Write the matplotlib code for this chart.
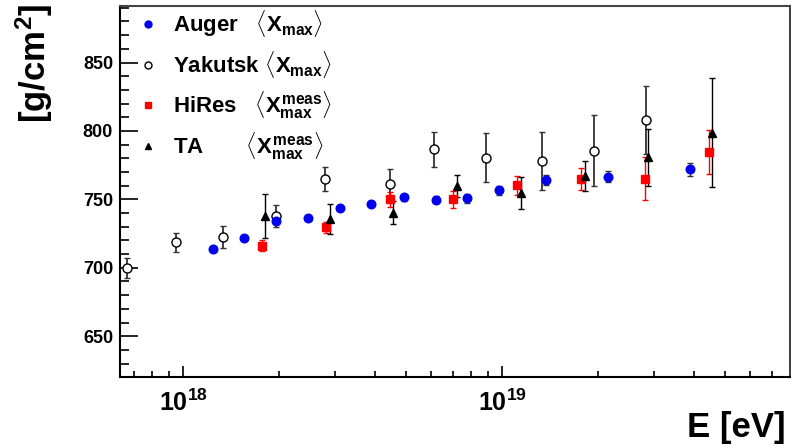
import matplotlib
matplotlib.use("Agg")
import matplotlib.pyplot as plt
from matplotlib.lines import Line2D
import numpy as np

plt.rcParams['font.family'] = ['Liberation Sans', 'DejaVu Sans']
plt.rcParams['font.weight'] = 'bold'
plt.rcParams['mathtext.fontset'] = 'custom'
plt.rcParams['mathtext.rm'] = 'Liberation Sans:bold'
plt.rcParams['mathtext.it'] = 'Liberation Sans:bold'
plt.rcParams['mathtext.bf'] = 'Liberation Sans:bold'
plt.rcParams['mathtext.sf'] = 'Liberation Sans:bold'
plt.rcParams['ytick.direction'] = 'in'
plt.rcParams['xtick.direction'] = 'in'
plt.rcParams['ytick.major.size'] = 13
plt.rcParams['ytick.minor.size'] = 6.5
plt.rcParams['xtick.major.size'] = 8
plt.rcParams['xtick.minor.size'] = 4.3
plt.rcParams['ytick.major.width'] = 1.2
plt.rcParams['ytick.minor.width'] = 1.2
plt.rcParams['xtick.major.width'] = 1.2
plt.rcParams['xtick.minor.width'] = 1.2
plt.rcParams['ytick.minor.visible'] = True
plt.rcParams['xtick.minor.visible'] = True

# ---- data ----
auger_E = [1.24e18, 1.55e18, 1.95e18, 2.47e18, 3.10e18, 3.89e18, 4.93e18, 6.21e18,
           7.78e18, 9.75e18, 1.37e19, 2.15e19, 3.88e19]
auger_X = [713.4, 721.7, 733.9, 736.5, 743.6, 746.8, 751.5, 749.7, 750.7, 756.6,
           764.1, 766.5, 771.9]
auger_err = [1.5, 1.5, 2.0, 1.5, 1.5, 2.0, 2.5, 2.5, 3.0, 3.5, 3.5, 4.0, 4.5]

yak_E = [6.67e17, 9.47e17, 1.33e18, 1.95e18, 2.78e18, 4.44e18, 6.11e18, 8.89e18,
         1.33e19, 1.94e19, 2.83e19]
yak_X = [699.8, 718.6, 722.7, 738.0, 765.0, 761.2, 786.5, 780.4, 778.2, 785.5, 808.0]
yak_err = [7, 7, 8, 8, 9, 11, 13, 18, 21, 26, 25]

hires_E = [1.77e18, 2.81e18, 4.44e18, 7.02e18, 1.11e19, 1.77e19, 2.80e19, 4.45e19]
hires_X = [716.1, 729.5, 750.2, 750.0, 760.2, 764.6, 765.1, 784.8]
hires_err = [4, 4, 5.5, 6, 7, 8, 15.5, 16]

ta_E = [1.81e18, 2.88e18, 4.56e18, 7.21e18, 1.15e19, 1.82e19, 2.87e19, 4.55e19]
ta_X = [738.0, 735.8, 740.2, 759.7, 754.8, 767.0, 780.7, 798.7]
ta_err = [16, 11, 8.5, 8, 11.5, 11, 21, 40]

labels = [r'Auger   $\langle X_{max}\rangle$',
          r'Yakutsk $\langle X_{max}\rangle$',
          r'HiRes   $\langle X_{max}^{meas}\rangle$',
          r'TA       $\langle X_{max}^{meas}\rangle$']

fig = plt.figure(figsize=(7.91, 4.47), dpi=100)
ax = fig.add_axes([120/791, 1-377.3/447, 670/791, (377.3-5.7)/447])

ax.errorbar(auger_E, auger_X, yerr=auger_err, fmt='o', color='#0000ee', ms=6.2,
            mec='#0000ee', ecolor='#333333', elinewidth=1.0, capsize=2.2, capthick=1.0,
            zorder=5)
ax.errorbar(yak_E, yak_X, yerr=yak_err, fmt='o', mfc='white', mec='black', ms=6.5,
            mew=1.0, ecolor='#333333', elinewidth=1.3, capsize=2.2, capthick=1.0,
            zorder=3)
ax.errorbar(hires_E, hires_X, yerr=hires_err, fmt='s', color='#ff0000', ms=5.5,
            ecolor='#ff0000', elinewidth=1.0, capsize=2.2, capthick=1.0, zorder=4)
ax.errorbar(ta_E, ta_X, yerr=ta_err, fmt='^', color='black', ms=5.5,
            ecolor='black', elinewidth=1.0, capsize=2.2, capthick=1.0, zorder=4)

ax.set_xscale('log')
ax.set_xlim(6.33e17, 8.0e19)
ax.set_ylim(620, 891.5)

ax.yaxis.set_major_locator(matplotlib.ticker.FixedLocator([650, 700, 750, 800, 850]))
ax.yaxis.set_minor_locator(matplotlib.ticker.FixedLocator(list(range(630, 891, 10))))
ax.xaxis.set_major_locator(matplotlib.ticker.FixedLocator([1e18, 1e19]))
ax.xaxis.set_major_formatter(matplotlib.ticker.FixedFormatter([r'$10^{18}$', r'$10^{19}$']))
ax.xaxis.set_minor_locator(matplotlib.ticker.LogLocator(base=10, subs=np.arange(2, 10)))
ax.xaxis.set_minor_formatter(matplotlib.ticker.NullFormatter())

ax.tick_params(axis='y', which='major', direction='in', length=13, width=1.2,
               color='black', labelsize=13, left=True, right=False, pad=5)
ax.tick_params(axis='y', which='minor', direction='in', length=6.5, width=1.2,
               color='black', left=True, right=False)
ax.tick_params(axis='x', which='major', direction='in', length=8, width=1.2,
               color='black', labelsize=18, bottom=True, top=False, pad=9)
ax.tick_params(axis='x', which='minor', direction='in', length=4.3, width=1.2,
               color='black', bottom=True, top=False)
for lab in ax.get_yticklabels():
    lab.set_fontweight('bold')

for s in ['left', 'bottom']:
    ax.spines[s].set_linewidth(1.5)
for s in ['top', 'right']:
    ax.spines[s].set_linewidth(1.5)
    ax.spines[s].set_color('#444444')

fig.text(786/791, 1-428/447, 'E [eV]', ha='right', va='center', fontsize=25,
         fontweight='bold')
fig.text(34/791, 1-4/447, r'[g/cm$^2$]', ha='center', va='top', rotation=90,
         fontsize=25, fontweight='bold')

handles = [
    Line2D([], [], ls='none', marker='o', color='#0000ee', ms=5),
    Line2D([], [], ls='none', marker='o', mfc='white', mec='black', ms=5, mew=1.0),
    Line2D([], [], ls='none', marker='s', color='#ff0000', ms=5),
    Line2D([], [], ls='none', marker='^', color='black', ms=5),
]
leg = ax.legend(handles, labels, loc='upper left', frameon=False,
                fontsize=16, handlelength=0.8, handletextpad=0.72, labelspacing=0.42,
                borderaxespad=0.0, borderpad=0.4, bbox_to_anchor=(0.015, 1.017))
for t in leg.get_texts():
    t.set_fontweight('bold')

fig.savefig('out.png', dpi=100)
